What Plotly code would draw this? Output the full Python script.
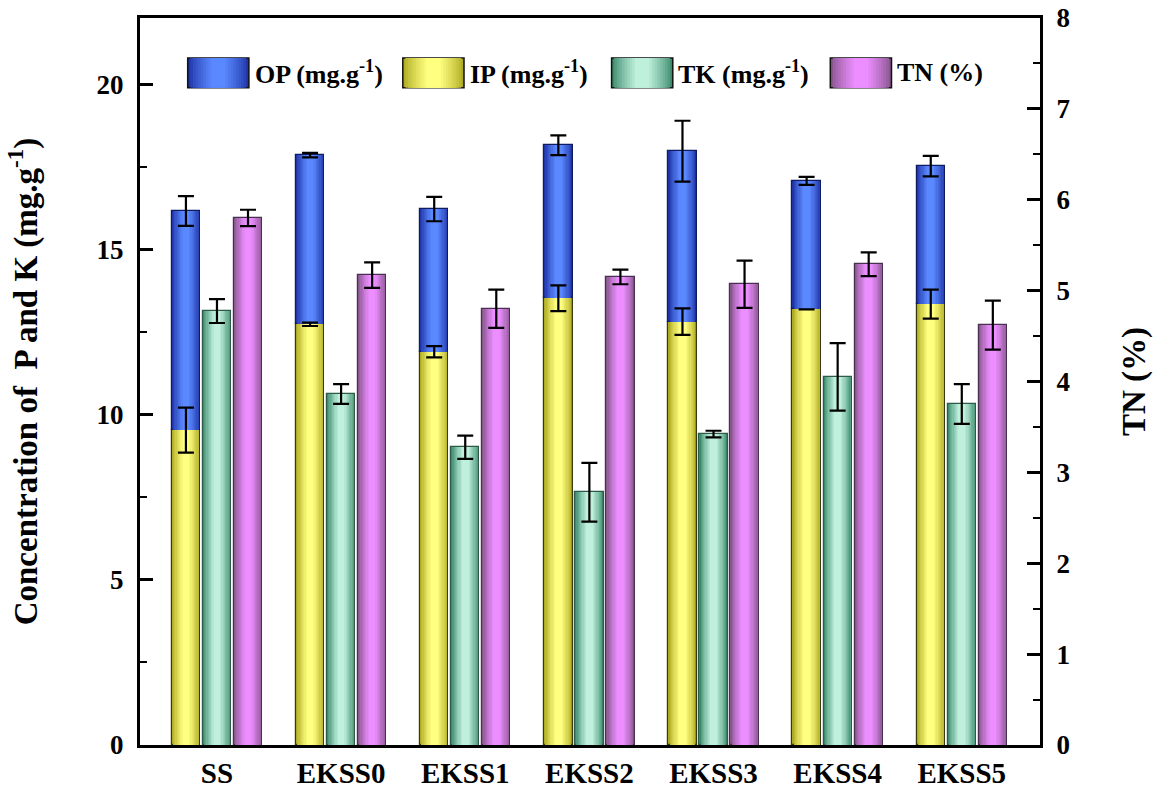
import plotly.graph_objects as go

categories = ["SS", "EKSS0", "EKSS1", "EKSS2", "EKSS3", "EKSS4", "EKSS5"]
ip = [9.53, 12.73, 11.90, 13.52, 12.81, 13.18, 13.34]
ip_err = [0.68, 0.05, 0.17, 0.39, 0.40, None, 0.44]
op = [6.63, 5.12, 4.32, 4.63, 5.16, 3.89, 4.18]
op_err = [0.45, 0.07, 0.37, 0.30, 0.92, 0.12, 0.31]
tk = [13.13, 10.62, 9.01, 7.65, 9.41, 11.14, 10.32]
tk_err = [0.36, 0.30, 0.35, 0.89, 0.10, 1.02, 0.60]
tn = [5.80, 5.17, 4.80, 5.15, 5.07, 5.29, 4.62]
tn_err = [0.09, 0.14, 0.21, 0.08, 0.26, 0.13, 0.27]

legend_names = ["OP (mg.g<sup>-1</sup>)", "IP (mg.g<sup>-1</sup>)", "TK (mg.g<sup>-1</sup>)", "TN (%)"]

FONT = "Liberation Serif"
W = 0.228
OFF = 0.25
NL = 10
FRACS = [1.0 - 0.085 * k for k in range(NL)]

COLORS = {
    "OP": ("#1f34a6", "#5a88ff", "#101c60"),
    "IP": ("#aeaa22", "#ffff80", "#3a3a10"),
    "TK": ("#3c8a6c", "#bff0dc", "#2e5a48"),
    "TN": ("#87568c", "#ec8eff", "#4a3050"),
}


def blend(c1, c2, t):
    a = [int(c1[i:i + 2], 16) for i in (1, 3, 5)]
    b = [int(c2[i:i + 2], 16) for i in (1, 3, 5)]
    return "#" + "".join(f"{round(a[k] + (b[k] - a[k]) * t):02x}" for k in range(3))


idx = list(range(len(categories)))
x_op = [i - OFF for i in idx]
x_tk = [i for i in idx]
x_tn = [i + OFF for i in idx]

fig = go.Figure()


def grad_bars(xs, ys, base, key, yaxis="y"):
    edge, center, line = COLORS[key]
    n = len(FRACS)
    for k, f in enumerate(FRACS):
        t = (k / (n - 1)) ** 0.8
        fig.add_trace(go.Bar(
            x=xs, y=ys, base=base, width=[W * f] * len(xs),
            marker=dict(color=blend(edge, center, t),
                        line=dict(width=1.2 if k == 0 else 0, color=line)),
            yaxis=yaxis, showlegend=False, hoverinfo="skip"))


grad_bars(x_op, ip, None, "IP")
grad_bars(x_op, op, ip, "OP")
grad_bars(x_tk, tk, None, "TK")
grad_bars(x_tn, tn, None, "TN", "y2")

op_top = [a + b for a, b in zip(ip, op)]


def err_trace(xs, ys, errs, yaxis="y"):
    fig.add_trace(go.Scatter(
        x=xs, y=ys, mode="markers", marker=dict(opacity=0, size=1),
        error_y=dict(type="data", array=errs, symmetric=True, color="black",
                     thickness=2.2, width=8),
        yaxis=yaxis, showlegend=False, hoverinfo="skip"))


err_trace(x_op, ip, ip_err)
err_trace(x_op, op_top, op_err)
err_trace(x_tk, tk, tk_err)
err_trace(x_tn, tn, tn_err, "y2")

# custom legend (wide gradient swatches)
shapes = []
annotations = []
leg_keys = ["OP", "IP", "TK", "TN"]
leg_x0 = [0.053, 0.292, 0.524, 0.767]
sw_w = 0.068
y0, y1 = 0.904, 0.945
for key, x0, name in zip(leg_keys, leg_x0, legend_names):
    edge, center, line = COLORS[key]
    cx = x0 + sw_w / 2
    n = len(FRACS)
    for k, f in enumerate(FRACS):
        t = (k / (n - 1)) ** 0.8
        hw = sw_w / 2 * f
        shapes.append(dict(type="rect", xref="paper", yref="paper",
                           x0=cx - hw, x1=cx + hw, y0=y0, y1=y1,
                           fillcolor=blend(edge, center, t),
                           line=dict(width=1.5 if k == 0 else 0, color="#111111"),
                           layer="above"))
    annotations.append(dict(xref="paper", yref="paper", x=x0 + sw_w + 0.004,
                            y=(y0 + y1) / 2, xanchor="left", yanchor="middle",
                            text=name, showarrow=False,
                            font=dict(family=FONT, size=26, color="black", weight="bold")))

tickfont = dict(family=FONT, size=27, color="black", weight="bold")
titlefont = dict(family=FONT, size=33, color="black", weight="bold")

fig.update_layout(
    width=1163, height=789,
    margin=dict(l=140, r=123, t=18, b=44, autoexpand=False),
    paper_bgcolor="white", plot_bgcolor="white",
    barmode="overlay", bargap=0,
    showlegend=False,
    shapes=shapes, annotations=annotations,
    xaxis=dict(range=[-0.62, 6.63], tickvals=idx, ticktext=categories,
               showline=True, linewidth=3, linecolor="black", mirror=True,
               ticks="", showgrid=False, zeroline=False, automargin=False,
               tickfont=dict(family=FONT, size=29, color="black", weight="bold")),
    yaxis=dict(range=[0, 22], tick0=0, dtick=5, ticks="inside", ticklen=13,
               tickwidth=2.5, tickcolor="black",
               minor=dict(dtick=2.5, ticks="inside", ticklen=7, tickwidth=2,
                          tickcolor="black", showgrid=False),
               showline=True, linewidth=3, linecolor="black",
               showgrid=False, zeroline=False, tickfont=tickfont,
               ticklabelstandoff=8, automargin=False, ticklabeloverflow="allow",
               title=dict(text="Concentration of  P and K (mg.g<sup>-1</sup>)",
                          font=titlefont, standoff=50)),
    yaxis2=dict(range=[0, 8], tick0=0, dtick=1, overlaying="y", side="right",
                ticks="inside", ticklen=13, tickwidth=2.5, tickcolor="black",
                minor=dict(dtick=0.5, ticks="inside", ticklen=7, tickwidth=2,
                           tickcolor="black", showgrid=False),
                showline=True, linewidth=3, linecolor="black",
                showgrid=False, zeroline=False, tickfont=tickfont,
                ticklabelstandoff=8, automargin=False, ticklabeloverflow="allow",
                title=dict(text="TN (%)", font=titlefont, standoff=53)),
)

fig.write_html("out.html",
               config={"displayModeBar": False},
               post_script="document.body.style.margin='0';document.body.style.overflow='hidden';")
